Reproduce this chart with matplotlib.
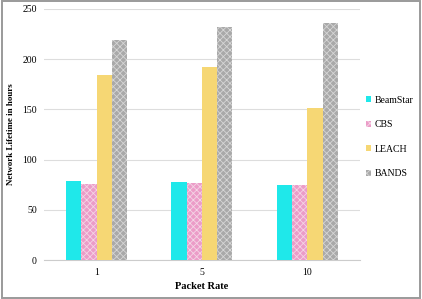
import numpy as np
import matplotlib
matplotlib.use("Agg")
import matplotlib.pyplot as plt
from matplotlib.patches import Rectangle

# data
packet_rates = ["1", "5", "10"]
beamstar = [79, 78, 75]
cbs = [76, 77, 75]
leach = [184, 192, 151]
bands = [219, 232, 236]

series_names = ["BeamStar", "CBS", "LEACH", "BANDS"]

plt.rcParams['font.family'] = ['Liberation Serif', 'DejaVu Serif']
plt.rcParams['hatch.linewidth'] = 0.6

fig = plt.figure(figsize=(4.22, 2.99), dpi=100)
ax = fig.add_axes([0.104, 0.130, 0.749, 0.840])

x = np.arange(len(packet_rates))
w = 0.145
styles = [
    dict(color="#1fe8ea", hatch=None, edgecolor="#1fe8ea"),
    dict(color="#ec9cc8", hatch="xxxxx", edgecolor="#f4d6e6"),
    dict(color="#f6d774", hatch=None, edgecolor="#f6d774"),
    dict(color="#a9a9a9", hatch="xxxxx", edgecolor="#d6d6d6"),
]
for i, (vals, st) in enumerate(zip([beamstar, cbs, leach, bands], styles)):
    ax.bar(x + (i - 1.5) * w, vals, w, color=st["color"], hatch=st["hatch"],
           edgecolor=st["edgecolor"], linewidth=0, label=series_names[i], zorder=3)

ax.set_xlim(-0.5, 2.5)
ax.set_ylim(0, 250)
ax.set_yticks(range(0, 251, 50))
ax.set_xticks(x)
ax.set_xticklabels(packet_rates)
ax.grid(axis="y", color="#dddddd", linewidth=0.8, zorder=0)
for s in ["top", "right", "left"]:
    ax.spines[s].set_visible(False)
ax.spines["bottom"].set_color("#cccccc")
ax.tick_params(axis="both", length=0, labelsize=7)
ax.tick_params(axis="x", pad=6)
ax.tick_params(axis="y", pad=5)
ax.set_xlabel("Packet Rate", fontsize=7.5, fontweight="bold", labelpad=3)
ax.set_ylabel("Network Lifetime in hours", fontsize=6.5, fontweight="bold", labelpad=5)

leg = ax.legend(loc="center left", bbox_to_anchor=(0.99, 0.49), frameon=False,
                fontsize=7, handlelength=0.6, handleheight=0.6, handletextpad=0.3,
                labelspacing=1.6)

# grey frame around the whole picture
fig.patches.append(Rectangle((0.004, 0.004), 0.992, 0.992, transform=fig.transFigure,
                             fill=False, edgecolor="#9a9a9a", linewidth=1.4))

fig.savefig("out.png", dpi=100)
